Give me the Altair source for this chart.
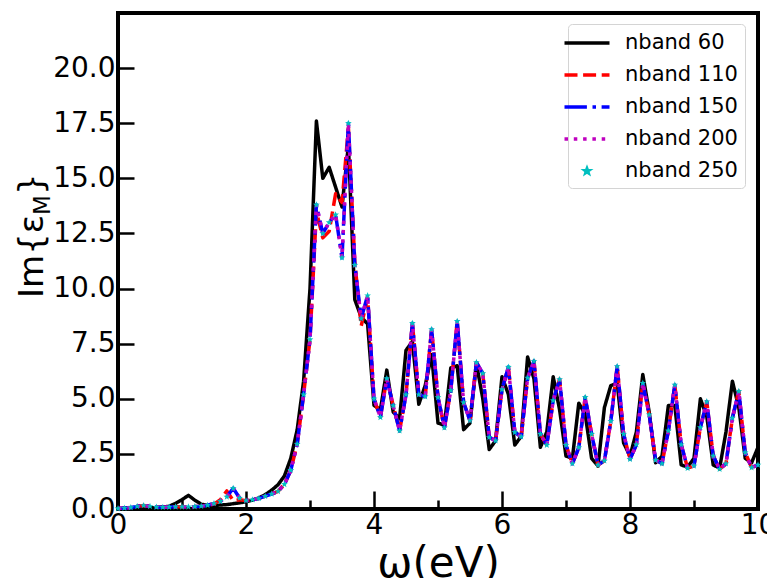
import math
import altair as alt
import pandas as pd

# ---------------- data ----------------
omega = [0.0, 0.1, 0.2, 0.3, 0.4, 0.5, 0.6, 0.7, 0.8, 0.9,
         1.0, 1.1, 1.2, 1.3, 1.4, 1.5, 1.6, 1.7, 1.8, 1.9,
         2.0, 2.1, 2.2, 2.3, 2.4, 2.5, 2.6, 2.7, 2.8, 2.9,
         3.0, 3.1, 3.2, 3.3, 3.4, 3.5, 3.6, 3.7, 3.8, 3.9,
         4.0, 4.1, 4.2, 4.3, 4.4, 4.5, 4.6, 4.7, 4.8, 4.9,
         5.0, 5.1, 5.2, 5.3, 5.4, 5.5, 5.6, 5.7, 5.8, 5.9,
         6.0, 6.1, 6.2, 6.3, 6.4, 6.5, 6.6, 6.7, 6.8, 6.9,
         7.0, 7.1, 7.2, 7.3, 7.4, 7.5, 7.6, 7.7, 7.8, 7.9,
         8.0, 8.1, 8.2, 8.3, 8.4, 8.5, 8.6, 8.7, 8.8, 8.9,
         9.0, 9.1, 9.2, 9.3, 9.4, 9.5, 9.6, 9.7, 9.8, 9.9,
         10.0]

im_60 = [0.00, 0.01, 0.02, 0.03, 0.04, 0.05, 0.06, 0.08, 0.13, 0.25,
         0.42, 0.62, 0.40, 0.22, 0.16, 0.16, 0.18, 0.20, 0.24, 0.28,
         0.33, 0.40, 0.50, 0.65, 0.85, 1.10, 1.50, 2.30, 3.60, 5.80,
         10.0, 17.6, 15.0, 15.5, 14.6, 13.7, 16.5, 9.5, 8.7, 8.4,
         4.7, 4.5, 6.3, 4.4, 4.1, 7.2, 7.6, 4.75, 5.6, 7.0,
         3.9, 3.8, 6.4, 6.5, 3.6, 3.9, 6.6, 5.0, 2.7, 3.1,
         6.0, 5.2, 2.9, 3.3, 6.9, 5.9, 2.8, 3.5, 6.0, 4.5,
         2.4, 2.3, 4.8, 4.3, 2.3, 1.95, 4.6, 5.6, 5.7, 3.0,
         2.4, 3.5, 6.1, 4.4, 2.1, 2.4, 4.7, 4.7, 2.0, 1.9,
         2.3, 5.0, 4.2, 2.0, 1.85, 3.5, 5.8, 4.6, 2.3, 2.1,
         2.8]

im_110 = [0.02, 0.04, 0.07, 0.12, 0.16, 0.12, 0.09, 0.08, 0.09, 0.10,
          0.10, 0.10, 0.11, 0.13, 0.17, 0.22, 0.42, 0.82, 0.38, 0.42,
          0.38, 0.42, 0.48, 0.58, 0.68, 0.80, 1.12, 1.76, 2.95, 5.19,
          7.69, 13.5, 12.3, 12.6, 14.3, 13.9, 17.3, 11.2, 8.3, 9.6,
          5.0, 4.16, 5.92, 4.69, 3.55, 5.19, 8.43, 5.19, 5.10, 8.15,
          5.06, 3.69, 5.38, 8.52, 4.83, 4.01, 6.65, 6.15, 3.25, 3.10,
          5.42, 6.44, 3.48, 3.28, 5.95, 6.71, 3.40, 2.90, 4.92, 5.88,
          2.90, 2.06, 2.79, 5.07, 3.40, 2.00, 2.19, 3.98, 6.47, 3.40,
          2.26, 2.92, 5.71, 4.28, 2.22, 2.06, 3.55, 5.63, 2.92, 1.85,
          1.96, 3.70, 4.87, 2.41, 1.81, 2.06, 4.13, 5.34, 2.56, 1.88,
          2.00]

im_150 = [0.02, 0.04, 0.07, 0.12, 0.16, 0.12, 0.09, 0.08, 0.09, 0.10,
          0.10, 0.10, 0.11, 0.13, 0.17, 0.25, 0.35, 0.55, 0.94, 0.50,
          0.38, 0.42, 0.48, 0.58, 0.68, 0.80, 1.12, 1.76, 2.95, 5.19,
          7.69, 13.8, 12.5, 13.0, 13.35, 11.4, 17.5, 11.07, 8.64, 9.68,
          5.0, 4.16, 5.92, 4.69, 3.55, 5.19, 8.43, 5.19, 5.10, 8.15,
          5.06, 3.69, 5.38, 8.52, 4.83, 4.01, 6.65, 6.15, 3.25, 3.10,
          5.42, 6.44, 3.48, 3.28, 5.95, 6.71, 3.40, 2.90, 4.92, 5.88,
          2.90, 2.06, 2.79, 5.07, 3.40, 2.00, 2.19, 3.98, 6.47, 3.40,
          2.26, 2.92, 5.71, 4.28, 2.22, 2.06, 3.55, 5.63, 2.92, 1.85,
          1.96, 3.70, 4.87, 2.41, 1.81, 2.06, 4.13, 5.34, 2.56, 1.88,
          2.00]

im_200 = [0.02, 0.04, 0.07, 0.12, 0.16, 0.12, 0.09, 0.08, 0.09, 0.10,
          0.10, 0.10, 0.11, 0.13, 0.17, 0.25, 0.35, 0.55, 0.94, 0.50,
          0.38, 0.42, 0.48, 0.58, 0.68, 0.80, 1.12, 1.76, 2.95, 5.19,
          7.69, 13.8, 12.5, 13.0, 13.35, 11.4, 17.5, 11.07, 8.64, 9.68,
          5.0, 4.16, 5.92, 4.69, 3.55, 5.19, 8.43, 5.19, 5.10, 8.15,
          5.06, 3.69, 5.38, 8.52, 4.83, 4.01, 6.65, 6.15, 3.25, 3.10,
          5.42, 6.44, 3.48, 3.28, 5.95, 6.71, 3.40, 2.90, 4.92, 5.88,
          2.90, 2.06, 2.79, 5.07, 3.40, 2.00, 2.19, 3.98, 6.47, 3.40,
          2.26, 2.92, 5.71, 4.28, 2.22, 2.06, 3.55, 5.63, 2.92, 1.85,
          1.96, 3.70, 4.87, 2.41, 1.81, 2.06, 4.13, 5.34, 2.56, 1.88,
          2.00]

im_250 = [0.02, 0.04, 0.07, 0.12, 0.16, 0.12, 0.09, 0.08, 0.09, 0.10,
          0.10, 0.10, 0.11, 0.13, 0.17, 0.25, 0.35, 0.55, 0.94, 0.50,
          0.38, 0.42, 0.48, 0.58, 0.68, 0.80, 1.12, 1.76, 2.95, 5.19,
          7.69, 13.8, 12.5, 13.0, 13.35, 11.4, 17.5, 11.07, 8.64, 9.68,
          5.0, 4.16, 5.92, 4.69, 3.55, 5.19, 8.43, 5.19, 5.10, 8.15,
          5.06, 3.69, 5.38, 8.52, 4.83, 4.01, 6.65, 6.15, 3.25, 3.10,
          5.42, 6.44, 3.48, 3.28, 5.95, 6.71, 3.40, 2.90, 4.92, 5.88,
          2.90, 2.06, 2.79, 5.07, 3.40, 2.00, 2.19, 3.98, 6.47, 3.40,
          2.26, 2.92, 5.71, 4.28, 2.22, 2.06, 3.55, 5.63, 2.92, 1.85,
          1.96, 3.70, 4.87, 2.41, 1.81, 2.06, 4.13, 5.34, 2.56, 1.88,
          2.00]

series_names = ["nband 60", "nband 110", "nband 150", "nband 200", "nband 250"]
x_major = [0, 2, 4, 6, 8, 10]
x_minor = [1, 3, 5, 7, 9]
y_ticks = [0.0, 2.5, 5.0, 7.5, 10.0, 12.5, 15.0, 17.5, 20.0]

# ---------------- table ----------------
rows = []
for name, vals in zip(series_names, [im_60, im_110, im_150, im_200, im_250]):
    for w, v in zip(omega, vals):
        rows.append({"omega": w, "im": v, "series": name})
df = pd.DataFrame(rows)

# ---------------- styles ----------------
FONT = "DejaVu Sans"
colors = ["#000000", "#ff0000", "#0000ff", "#bf00bf", "#00bfbf"]
dashes = [[1, 0], [13, 5.6], [22.4, 5.6, 3.5, 5.6], [3.5, 5.8], [1, 0]]
LW = 3.5


def star_path(r_out, r_in):
    pts = []
    for k in range(10):
        r = r_out if k % 2 == 0 else r_in
        a = -math.pi / 2 + k * math.pi / 5
        pts.append(f"{r * math.cos(a):.3f},{r * math.sin(a):.3f}")
    return "M" + "L".join(pts) + "Z"


STAR = star_path(1.0, 0.42)
LEG_LINE = "M-2.25,0L2.25,0"
legend_shapes = [LEG_LINE, LEG_LINE, LEG_LINE, LEG_LINE, star_path(0.18, 0.075)]

xscale = alt.Scale(domain=[0, 10], nice=False, zero=False)
yscale = alt.Scale(domain=[0, 22.5], nice=False, zero=False)

x_axis_major = alt.Axis(
    values=x_major, format="d", title="ω(eV)",
    tickSize={"expr": "-18"}, tickWidth=2.5, tickColor="black",
    labelPadding=20, labelFontSize=28, labelColor="black", labelFont=FONT,
    labelFlush=False, labelOverlap=False, domain=False, grid=False,
    titleFontSize=42, titleFontWeight="normal", titleColor="black", titleFont=FONT,
    titleY=67, titleBaseline="alphabetic", orient="bottom",
)
x_axis_minor = alt.Axis(
    values=x_minor, tickSize={"expr": "-9"}, tickWidth=2.5, tickColor="black",
    labels=False, domain=False, grid=False, title=None, orient="bottom",
)
y_axis = alt.Axis(
    values=y_ticks, format=".1f", title=None,
    tickSize={"expr": "-16"}, tickWidth=2.5, tickColor="black",
    labelPadding=19, labelFontSize=28, labelColor="black", labelFont=FONT,
    labelFlush=False, labelOverlap=False, domain=False, grid=False,
)

legend = alt.Legend(
    title=None, orient="none", legendX=450, legendY=11, padding=7,
    strokeColor="#d4d4d4", cornerRadius=4, fillColor="white",
    labelFontSize=21, labelFont=FONT, labelColor="black",
    symbolSize=400, labelOffset=26, rowPadding=10,
)


def series_line(name, color, dash):
    enc_x = alt.X("omega:Q", scale=xscale, axis=x_axis_major if name == "nband 60" else None)
    return (
        alt.Chart(df)
        .transform_filter(alt.datum.series == name)
        .mark_line(color=color, strokeWidth=LW, strokeDash=dash, strokeCap="butt", strokeJoin="round")
        .encode(x=enc_x, y=alt.Y("im:Q", scale=yscale, axis=y_axis), order="omega:Q")
    )


lines = [series_line(n, c, d) for n, c, d in zip(series_names[:4], colors[:4], dashes[:4])]

stars = (
    alt.Chart(df)
    .transform_filter(alt.datum.series == "nband 250")
    .mark_point(shape=STAR, filled=True, size=50, color=colors[4], opacity=1)
    .encode(x=alt.X("omega:Q", scale=xscale, axis=None), y=alt.Y("im:Q", scale=yscale, axis=y_axis))
)

dom = series_names
legend_layer = (
    alt.Chart(df)
    .transform_filter("false")
    .mark_point(filled=True, opacity=1)
    .encode(
        x=alt.X("omega:Q", scale=xscale, axis=x_axis_minor),
        y=alt.Y("im:Q", scale=yscale, axis=y_axis),
        color=alt.Color("series:N", scale=alt.Scale(domain=dom, range=colors), legend=legend),
        stroke=alt.Stroke("series:N", scale=alt.Scale(domain=dom, range=colors), legend=legend),
        shape=alt.Shape("series:N", scale=alt.Scale(domain=dom, range=legend_shapes), legend=legend),
        strokeDash=alt.StrokeDash("series:N", scale=alt.Scale(domain=dom, range=dashes), legend=legend),
        strokeWidth=alt.StrokeWidth("series:N", scale=alt.Scale(domain=dom, range=[LW, LW, LW, LW, 1]), legend=legend),
    )
)

# y-axis title: "Im{ε" + subscript "M" + "}"
ylab_main = alt.Chart(alt.Data(values=[{"t": "Im{ε"}])).mark_text(
    angle=270, align="left", baseline="alphabetic", fontSize=34, font=FONT, color="black"
).encode(text="t:N", x=alt.value(-75), y=alt.value(285))
ylab_sub = alt.Chart(alt.Data(values=[{"t": "M"}])).mark_text(
    angle=270, align="left", baseline="alphabetic", fontSize=23, font=FONT, color="black"
).encode(text="t:N", x=alt.value(-68), y=alt.value(202))
ylab_close = alt.Chart(alt.Data(values=[{"t": "}"}])).mark_text(
    angle=270, align="left", baseline="alphabetic", fontSize=34, font=FONT, color="black"
).encode(text="t:N", x=alt.value(-75), y=alt.value(182))

chart = (
    alt.layer(*lines, stars, legend_layer, ylab_main, ylab_sub, ylab_close)
    .resolve_axis(x="independent")
    .properties(
        width=640, height=496,
        padding={"left": 110, "top": 5, "right": 9, "bottom": 69},
        autosize=alt.AutoSizeParams(type="none"),
        background="white",
    )
    .configure(font=FONT)
    .configure_view(stroke="black", strokeWidth=4)
)

chart.save("out.html", embed_options={"renderer": "svg", "actions": False})
